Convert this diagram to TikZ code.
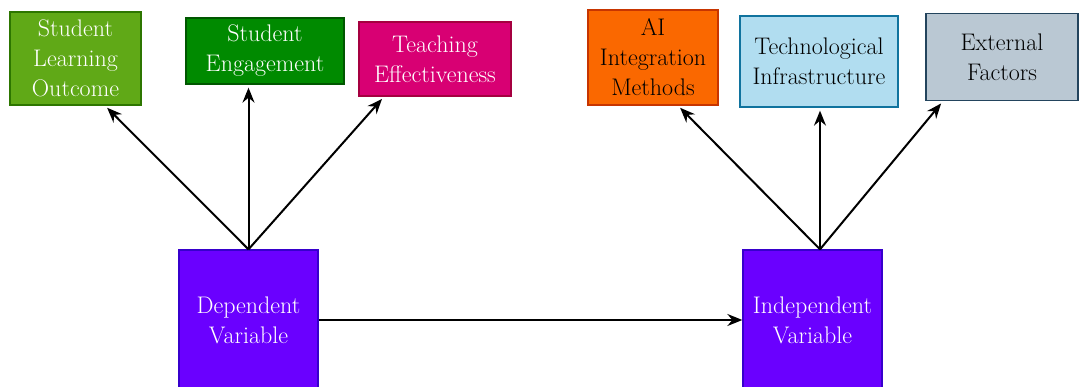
\documentclass[tikz,border=0pt]{standalone}
\usepackage{fontspec}
\usepackage{tikz}
\usetikzlibrary{arrows.meta}
\definecolor{leafgreen}{HTML}{60A917}
\definecolor{leafedge}{HTML}{2D7600}
\definecolor{darkgreen}{HTML}{008A00}
\definecolor{darkedge}{HTML}{005700}
\definecolor{magentafill}{HTML}{D80073}
\definecolor{magentaedge}{HTML}{A50040}
\definecolor{orangefill}{HTML}{FA6800}
\definecolor{orangeedge}{HTML}{C73500}
\definecolor{skyfill}{HTML}{B1DDF0}
\definecolor{skyedge}{HTML}{10739E}
\definecolor{slatefill}{HTML}{BAC8D3}
\definecolor{slateedge}{HTML}{23445D}
\definecolor{violetfill}{HTML}{6A00FF}
\definecolor{violetedge}{HTML}{3700CC}

\begin{document}
\begin{tikzpicture}[x=1pt, y=-1pt,
        box/.style={draw, line width=1.3pt, inner sep=0pt, align=center,
            font=\fontsize{24}{30}\selectfont},
        varbox/.style={box, fill=violetfill, draw=violetedge, text=white,
            minimum width=139pt, minimum height=140pt},
        arr/.style={-{Stealth[length=15pt, width=12pt, inset=5pt]}, line width=2pt,
            shorten >=3pt}
    ]
    \useasboundingbox (0, 0) rectangle (1079, 387);
    \clip (0, 0) rectangle (1079, 387);

    % outcome side
    \node[box, fill=leafgreen, draw=leafedge, text=white,
        minimum width=131pt, minimum height=93pt] (outcome) at (75.5, 58.5)
        {Student\\Learning\\Outcome};
    \node[box, fill=darkgreen, draw=darkedge, text=white,
        minimum width=158pt, minimum height=66pt] (engage) at (265, 51)
        {Student\\Engagement};
    \node[box, fill=magentafill, draw=magentaedge, text=white,
        minimum width=152pt, minimum height=74pt] (teach) at (435, 59)
        {Teaching\\Effectiveness};

    % factor side
    \node[box, fill=orangefill, draw=orangeedge, text=black,
        minimum width=130pt, minimum height=95pt] (aimeth) at (653, 57.5)
        {AI\\Integration\\Methods};
    \node[box, fill=skyfill, draw=skyedge, text=black,
        minimum width=158pt, minimum height=91pt] (techinf) at (819, 61.5)
        {Technological\\Infrastructure};
    \node[box, fill=slatefill, draw=slateedge, text=black,
        minimum width=152pt, minimum height=87pt] (extfac) at (1002, 57)
        {External\\Factors};

    \node[varbox] (depvar) at (248.5, 320) {Dependent\\Variable};
    \node[varbox] (indepvar) at (812.5, 320) {Independent\\Variable};

    \draw[arr] (depvar.north) -- ([xshift=29.5]outcome.south);
    \draw[arr] (depvar.north) -- (depvar.north |- engage.south);
    \draw[arr] (depvar.north) -- ([xshift=-51]teach.south);

    \draw[arr] ([xshift=7.5]indepvar.north) -- ([xshift=25]aimeth.south);
    \draw[arr] ([xshift=7.5]indepvar.north) -- ([xshift=1]techinf.south);
    \draw[arr] ([xshift=7.5]indepvar.north) -- ([xshift=-59]extfac.south);

    \draw[arr, shorten >=0pt] (depvar.east) -- (indepvar.west);
\end{tikzpicture}
\end{document}
